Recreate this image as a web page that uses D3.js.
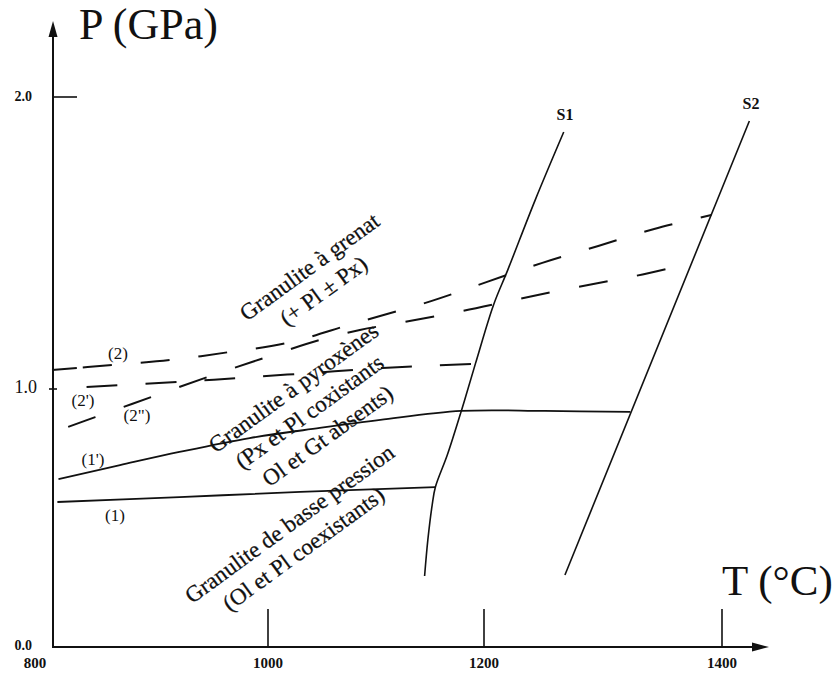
<!DOCTYPE html>
<html><head><meta charset="utf-8">
<script src="https://cdn.jsdelivr.net/npm/d3@7"></script>
<style>
html,body{margin:0;padding:0;background:#fff;}
svg{display:block;}
text{font-family:"Liberation Serif","Times New Roman",serif;fill:#111;}
</style></head>
<body>
<svg id="chart" width="834" height="673"></svg>
<script>
// ---------- data (T in °C, P in GPa) ----------
const xTicks = [800, 1000, 1200, 1400];
const yTicks = [0.0, 1.0, 2.0];
const xTickLabels = ["800", "1000", "1200", "1400"];
const yTickLabels = ["0.0", "1.0", "2.0"];

const line1T  = [805, 918, 1030, 1155];
const line1P  = [0.562, 0.581, 0.601, 0.620];

const line1pT = [806, 863, 918, 983, 1048, 1104, 1179, 1251, 1323];
const line1pP = [0.651, 0.705, 0.756, 0.810, 0.849, 0.880, 0.915, 0.915, 0.911];

const line2T  = [800, 856, 909, 965, 1018, 1080, 1151, 1202, 1249, 1296, 1343, 1391];
const line2P  = [1.065, 1.082, 1.099, 1.127, 1.158, 1.225, 1.301, 1.366, 1.432, 1.490, 1.548, 1.596];

const line2pT = [832, 916, 974, 1040, 1106, 1192];
const line2pP = [1.007, 1.024, 1.038, 1.055, 1.072, 1.086];

const line2ppT = [815, 840, 892, 944, 996, 1048, 1085, 1125, 1180, 1229, 1278, 1327, 1375];
const line2ppP = [0.853, 0.891, 0.969, 1.041, 1.106, 1.168, 1.202, 1.229, 1.267, 1.308, 1.349, 1.387, 1.432];

const s1T = [1145, 1148, 1152, 1155, 1166, 1179, 1192, 1208, 1220, 1243, 1267];
const s1P = [0.275, 0.415, 0.550, 0.620, 0.744, 0.915, 1.086, 1.288, 1.408, 1.647, 1.880];

const s2T = [1268, 1423];
const s2P = [0.279, 1.918];

// ---------- scales ----------
const svg = d3.select("#chart");
const x = d3.scaleLinear().domain(xTicks).range([52, 268, 484, 722]);
const y = d3.scaleLinear().domain(yTicks).range([647, 389, 97]);

const zip = (a, b) => a.map((v, i) => [v, b[i]]);
const lineGen = d3.line().x(d => x(d[0])).y(d => y(d[1]));
const smooth = d3.line().x(d => x(d[0])).y(d => y(d[1])).curve(d3.curveCatmullRom.alpha(0.5));

// ---------- axes ----------
const axisG = svg.append("g");
axisG.append("line").attr("x1", x(800)).attr("x2", 752)
  .attr("y1", y(0)).attr("y2", y(0)).attr("stroke", "#111").attr("stroke-width", 2);
axisG.append("path").attr("d", `M752,${y(0)-4.5} L769,${y(0)} L752,${y(0)+4.5} Z`).attr("fill", "#111");
axisG.append("line").attr("x1", x(800)+1).attr("x2", x(800)+1)
  .attr("y1", y(0)+1).attr("y2", 36).attr("stroke", "#111").attr("stroke-width", 2);
axisG.append("path").attr("d", `M${x(800)+1-4.5},37 L${x(800)+1},21 L${x(800)+1+4.5},37 Z`).attr("fill", "#111");

axisG.selectAll(".xt").data(xTicks.filter(v => v > 800)).enter().append("line")
  .attr("x1", d => x(d)).attr("x2", d => x(d))
  .attr("y1", y(0)).attr("y2", y(0) - 38)
  .attr("stroke", "#111").attr("stroke-width", 1.6);
axisG.selectAll(".xl").data(xTicks).enter().append("text")
  .attr("x", d => x(d) + (d === 800 ? -17 : 0))
  .attr("y", 668)
  .attr("text-anchor", "middle").attr("font-size", 15).attr("font-weight", "bold")
  .text((d, i) => xTickLabels[i]);

axisG.append("line").attr("x1", x(800)+1).attr("x2", x(800)+25)
  .attr("y1", y(2)).attr("y2", y(2)).attr("stroke", "#111").attr("stroke-width", 1.6);
axisG.append("line").attr("x1", x(800)-3).attr("x2", x(800)+5)
  .attr("y1", y(1)).attr("y2", y(1)).attr("stroke", "#111").attr("stroke-width", 1.6);
axisG.selectAll(".yl").data(yTicks).enter().append("text")
  .attr("x", d => d === 1 ? 37 : 32)
  .attr("y", d => y(d) + (d === 0 ? 3 : 4))
  .attr("text-anchor", "end")
  .attr("font-size", d => d === 1 ? 18 : 14)
  .attr("font-weight", d => d === 1 ? "normal" : "bold")
  .text((d, i) => yTickLabels[i]);

svg.append("text").attr("x", 79).attr("y", 39).attr("font-size", 44).text("P (GPa)");
svg.append("text").attr("x", 722).attr("y", 595).attr("font-size", 43).text("T (°C)");

// ---------- curves ----------
const g = svg.append("g").attr("fill", "none").attr("stroke", "#111");
g.append("path").attr("d", smooth(zip(line1T, line1P))).attr("stroke-width", 1.8);
g.append("path").attr("d", smooth(zip(line1pT, line1pP))).attr("stroke-width", 1.8);
g.append("path").attr("d", smooth(zip(s1T, s1P))).attr("stroke-width", 1.6);
g.append("path").attr("d", lineGen(zip(s2T, s2P))).attr("stroke-width", 1.6);

const dash2 = "25,6," + Array(30).fill("29,29").join(",");
g.append("path").attr("d", smooth(zip(line2T, line2P))).attr("stroke-width", 2)
  .attr("stroke-dasharray", dash2);
g.append("path").attr("d", smooth(zip(line2pT, line2pP))).attr("stroke-width", 2)
  .attr("stroke-dasharray", "31,28");
g.append("path").attr("d", smooth(zip(line2ppT, line2ppP))).attr("stroke-width", 2)
  .attr("stroke-dasharray", "29,30");

// ---------- curve labels ----------
const curveLabels = [
  {t: "(2)",  px: 118, py: 359},
  {t: "(2')", px: 83,  py: 406},
  {t: "(2\")", px: 137, py: 421},
  {t: "(1')", px: 93,  py: 465},
  {t: "(1)",  px: 115, py: 521}
];
svg.selectAll(".cl").data(curveLabels).enter().append("text")
  .attr("x", d => d.px).attr("y", d => d.py)
  .attr("text-anchor", "middle").attr("font-size", 17).text(d => d.t);

svg.append("text").attr("x", 565).attr("y", 120).attr("text-anchor", "middle")
  .attr("font-size", 16).attr("font-weight", "bold").text("S1");
svg.append("text").attr("x", 751).attr("y", 109).attr("text-anchor", "middle")
  .attr("font-size", 16).attr("font-weight", "bold").text("S2");

// ---------- field labels (rotated) ----------
const fieldLabels = [
  {t: "Granulite à grenat", cx: 314, cy: 273},
  {t: "(+ Pl ± Px)", cx: 328, cy: 297},
  {t: "Granulite à pyroxènes", cx: 298, cy: 394},
  {t: "(Px et Pl coxistants", cx: 314, cy: 418},
  {t: "Ol et Gt absents)", cx: 332, cy: 442},
  {t: "Granulite de basse pression", cx: 294, cy: 530},
  {t: "(Ol et Pl coexistants)", cx: 308, cy: 555}
];
svg.selectAll(".fl").data(fieldLabels).enter().append("text")
  .attr("transform", d => `translate(${d.cx},${d.cy}) rotate(-36)`)
  .attr("text-anchor", "middle").attr("font-size", 23)
  .attr("stroke", "#111").attr("stroke-width", 0.25)
  .text(d => d.t);
</script>
</body></html>
